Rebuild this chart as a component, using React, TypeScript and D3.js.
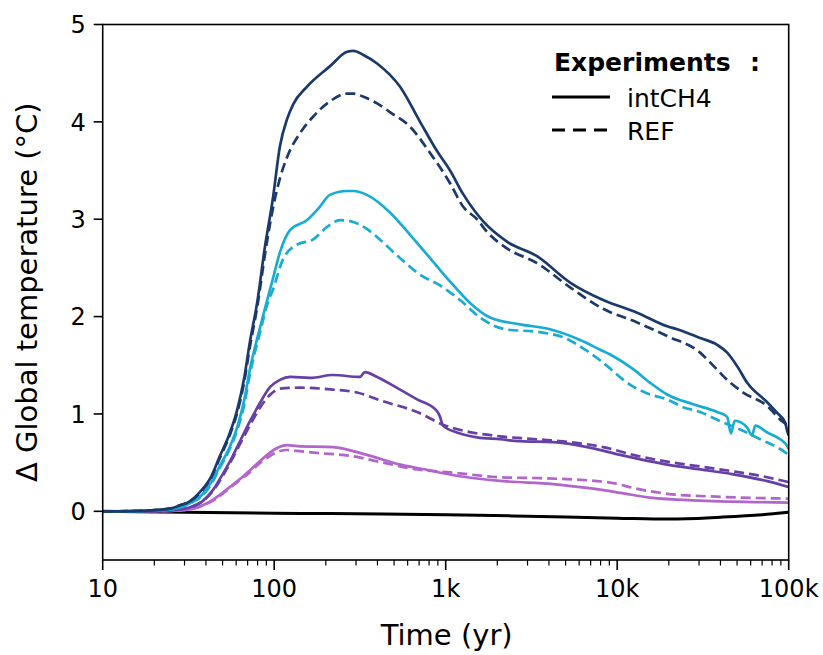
import React from "react";
import * as d3 from "d3";

type P = [number, number];

const xTickValues = [10, 100, 1000, 10000, 100000];
const xTickLabels = ["10", "100", "1k", "10k", "100k"];
const yTickValues = [0, 1, 2, 3, 4, 5];
const yTickLabels = ["0", "1", "2", "3", "4", "5"];

const navyInt: P[] = [[10,0],[15,0.003],[19,0.01],[25,0.03],[28,0.06],[32,0.1],[37,0.2],[43,0.36],[48,0.56],[55,0.8],[61,1.05],[67,1.38],[72,1.73],[80,2.17],[88,2.7],[98,3.2],[108,3.75],[119,4.03],[129,4.18],[155,4.36],[211,4.57],[266,4.72],[290,4.73],[329,4.69],[398,4.6],[542,4.36],[709,4.0],[890,3.7],[1060,3.5],[1262,3.26],[1650,2.98],[2276,2.77],[3406,2.62],[5313,2.35],[8282,2.17],[13070,2.04],[19550,1.9],[22350,1.87],[30430,1.78],[38270,1.71],[43780,1.63],[50080,1.49],[57300,1.32],[74970,1.12],[85700,1.01],[95500,0.91],[98100,0.82],[100000,0.78]];
const navyRef: P[] = [[10,0],[15,0.003],[19,0.01],[25,0.03],[28,0.06],[32,0.1],[37,0.19],[43,0.35],[48,0.54],[55,0.78],[61,1.02],[67,1.34],[72,1.68],[80,2.12],[88,2.62],[98,3.1],[108,3.42],[119,3.64],[141,3.88],[168,4.05],[211,4.21],[266,4.29],[290,4.29],[329,4.26],[398,4.19],[473,4.1],[620,3.95],[811,3.68],[1060,3.37],[1262,3.13],[1523,3.0],[1742,2.87],[2276,2.7],[3406,2.55],[5313,2.3],[8282,2.08],[13070,1.94],[19550,1.8],[30430,1.63],[34800,1.53],[43780,1.35],[54300,1.22],[74970,1.08],[89250,0.94],[98100,0.87],[100000,0.82]];
const cyanInt: P[] = [[10,0],[15,0.002],[19,0.006],[25,0.02],[28,0.04],[32,0.08],[38,0.17],[43,0.3],[48,0.46],[55,0.66],[61,0.87],[67,1.15],[72,1.45],[83,1.9],[92,2.2],[98,2.38],[108,2.66],[124,2.89],[155,2.99],[185,3.13],[211,3.25],[266,3.29],[290,3.29],[347,3.25],[473,3.07],[620,2.84],[811,2.6],[1060,2.36],[1386,2.14],[1813,1.99],[2711,1.92],[4058,1.87],[6075,1.76],[7955,1.66],[9103,1.61],[12390,1.46],[15560,1.32],[19550,1.2],[27710,1.1],[38270,1.02],[43780,0.97],[46000,0.8],[48500,0.93],[57300,0.86],[61000,0.78],[64000,0.88],[74970,0.81],[89250,0.74],[98100,0.67],[100000,0.64]];
const cyanRef: P[] = [[10,0],[15,0.002],[19,0.006],[25,0.02],[28,0.04],[32,0.08],[38,0.16],[43,0.28],[48,0.44],[55,0.64],[61,0.84],[67,1.1],[72,1.4],[83,1.85],[92,2.15],[98,2.27],[112,2.58],[136,2.74],[168,2.79],[203,2.92],[242,2.99],[277,2.98],[347,2.9],[414,2.79],[542,2.6],[709,2.43],[927,2.32],[1212,2.17],[1585,1.99],[2220,1.87],[3548,1.84],[4966,1.78],[6501,1.66],[7955,1.55],[12390,1.28],[15560,1.2],[19550,1.15],[24220,1.07],[30430,1.02],[38270,0.94],[52120,0.84],[68270,0.74],[89250,0.64],[100000,0.58]];
const purpleInt: P[] = [[10,0],[15,0.001],[19,0.003],[25,0.01],[32,0.04],[38,0.1],[44,0.22],[50,0.38],[57,0.56],[64,0.74],[72,0.92],[83,1.12],[95,1.28],[108,1.35],[124,1.38],[162,1.37],[220,1.4],[316,1.38],[338,1.43],[398,1.38],[542,1.25],[681,1.15],[890,1.03],[927,0.97],[964,0.88],[1164,0.81],[1523,0.76],[2075,0.74],[2711,0.72],[4223,0.71],[6683,0.66],[10400,0.58],[19550,0.48],[30430,0.43],[47450,0.38],[74970,0.31],[100000,0.25]];
const purpleRef: P[] = [[10,0],[15,0.001],[19,0.003],[25,0.01],[32,0.04],[38,0.1],[44,0.21],[50,0.36],[57,0.54],[64,0.71],[72,0.88],[83,1.07],[95,1.2],[108,1.26],[141,1.27],[220,1.25],[304,1.22],[431,1.13],[681,1.02],[964,0.89],[1331,0.82],[2075,0.77],[3406,0.74],[5313,0.71],[8282,0.66],[12390,0.58],[19550,0.51],[30430,0.46],[47450,0.41],[74970,0.35],[100000,0.3]];
const lightInt: P[] = [[10,0],[19,0.001],[25,0.004],[32,0.02],[37,0.05],[44,0.12],[50,0.19],[57,0.27],[64,0.34],[72,0.42],[83,0.52],[91,0.58],[104,0.65],[119,0.68],[136,0.67],[220,0.66],[347,0.58],[542,0.48],[709,0.44],[1212,0.36],[2161,0.31],[4223,0.28],[6683,0.24],[10400,0.19],[15560,0.14],[30430,0.11],[100000,0.09]];
const lightRef: P[] = [[10,0],[19,0.001],[25,0.004],[32,0.02],[37,0.05],[44,0.11],[50,0.18],[57,0.26],[64,0.33],[72,0.4],[83,0.5],[91,0.55],[104,0.61],[119,0.63],[136,0.62],[177,0.6],[277,0.57],[431,0.5],[681,0.43],[1060,0.4],[2075,0.35],[3548,0.34],[5104,0.33],[9480,0.29],[12390,0.24],[19550,0.18],[38270,0.15],[100000,0.13]];
const blackLine: P[] = [[10,0],[30,-0.01],[100,-0.02],[300,-0.025],[1000,-0.035],[3000,-0.05],[10000,-0.07],[20000,-0.08],[40000,-0.06],[70000,-0.035],[100000,-0.01]];

const seriesList = [
  { data: blackLine, color: "#000000", dashed: false },
  { data: lightRef, color: "#b266cc", dashed: true },
  { data: lightInt, color: "#b266cc", dashed: false },
  { data: purpleRef, color: "#6640a6", dashed: true },
  { data: purpleInt, color: "#6640a6", dashed: false },
  { data: cyanRef, color: "#19acd2", dashed: true },
  { data: cyanInt, color: "#19acd2", dashed: false },
  { data: navyRef, color: "#1b3a6b", dashed: true },
  { data: navyInt, color: "#1b3a6b", dashed: false },
];

const W = 823, H = 655;
const L = 102.7, R = 788.7, T = 24.5, B = 560;
const FONT = "DejaVu Sans, sans-serif";

export default function App() {
  const x = d3.scaleLog().domain([10, 100000]).range([L, R]);
  const y = d3.scaleLinear().domain([-0.5, 5]).range([B, T]);
  const line = d3.line<P>().x(d => x(d[0])).y(d => y(d[1])).curve(d3.curveMonotoneX);

  const minor: number[] = [];
  for (let e = 1; e < 5; e++) for (let k = 2; k <= 9; k++) minor.push(k * Math.pow(10, e));

  return (
    <svg width={W} height={H} style={{ position: "absolute", left: 0, top: 0, background: "#fff" }} fontFamily={FONT}>
      <rect x={0} y={0} width={W} height={H} fill="#fff" />
      <defs>
        <clipPath id="plot"><rect x={L} y={T} width={R - L} height={B - T} /></clipPath>
      </defs>
      <g clipPath="url(#plot)">
        {seriesList.map((s, i) => (
          <path key={i} d={line(s.data) || ""} fill="none" stroke={s.color}
            strokeWidth={s.color === "#000000" ? 3 : 2.7}
            strokeDasharray={s.dashed ? "10,5" : undefined} strokeLinejoin="round" />
        ))}
      </g>
      <rect x={L} y={T} width={R - L} height={B - T} fill="none" stroke="#000" strokeWidth={1.6} />
      {xTickValues.map((v, i) => (
        <g key={"x" + i}>
          <line x1={x(v)} x2={x(v)} y1={B} y2={B + 10} stroke="#000" strokeWidth={1.6} />
          <text x={x(v)} y={597} textAnchor="middle" fontSize={24} fill="#000">{xTickLabels[i]}</text>
        </g>
      ))}
      {minor.map((v, i) => (
        <line key={"m" + i} x1={x(v)} x2={x(v)} y1={B} y2={B + 5.5} stroke="#000" strokeWidth={1.2} />
      ))}
      {yTickValues.map((v, i) => (
        <g key={"y" + i}>
          <line x1={L - 9} x2={L} y1={y(v)} y2={y(v)} stroke="#000" strokeWidth={1.6} />
          <text x={L - 17} y={y(v)} dy="0.36em" textAnchor="end" fontSize={24} fill="#000">{yTickLabels[i]}</text>
        </g>
      ))}
      <text x={(L + R) / 2 + 1} y={645} textAnchor="middle" fontSize={29} fill="#000">Time (yr)</text>
      <text transform={`translate(37,${(T + B) / 2}) rotate(-90)`} textAnchor="middle" fontSize={29} fill="#000">Δ Global temperature (°C)</text>
      <text x={554} y={71} fontSize={25} fontWeight="bold" fill="#000">Experiments</text>
      <text x={750} y={71} fontSize={25} fontWeight="bold" fill="#000">:</text>
      <line x1={552} x2={610} y1={97} y2={97} stroke="#000" strokeWidth={2.8} />
      <text x={627} y={98} dy="0.36em" fontSize={25} fill="#000">intCH4</text>
      <line x1={552} x2={610} y1={130} y2={130} stroke="#000" strokeWidth={2.8} strokeDasharray="13,8" />
      <text x={627} y={131} dy="0.36em" fontSize={25} fill="#000">REF</text>
    </svg>
  );
}
